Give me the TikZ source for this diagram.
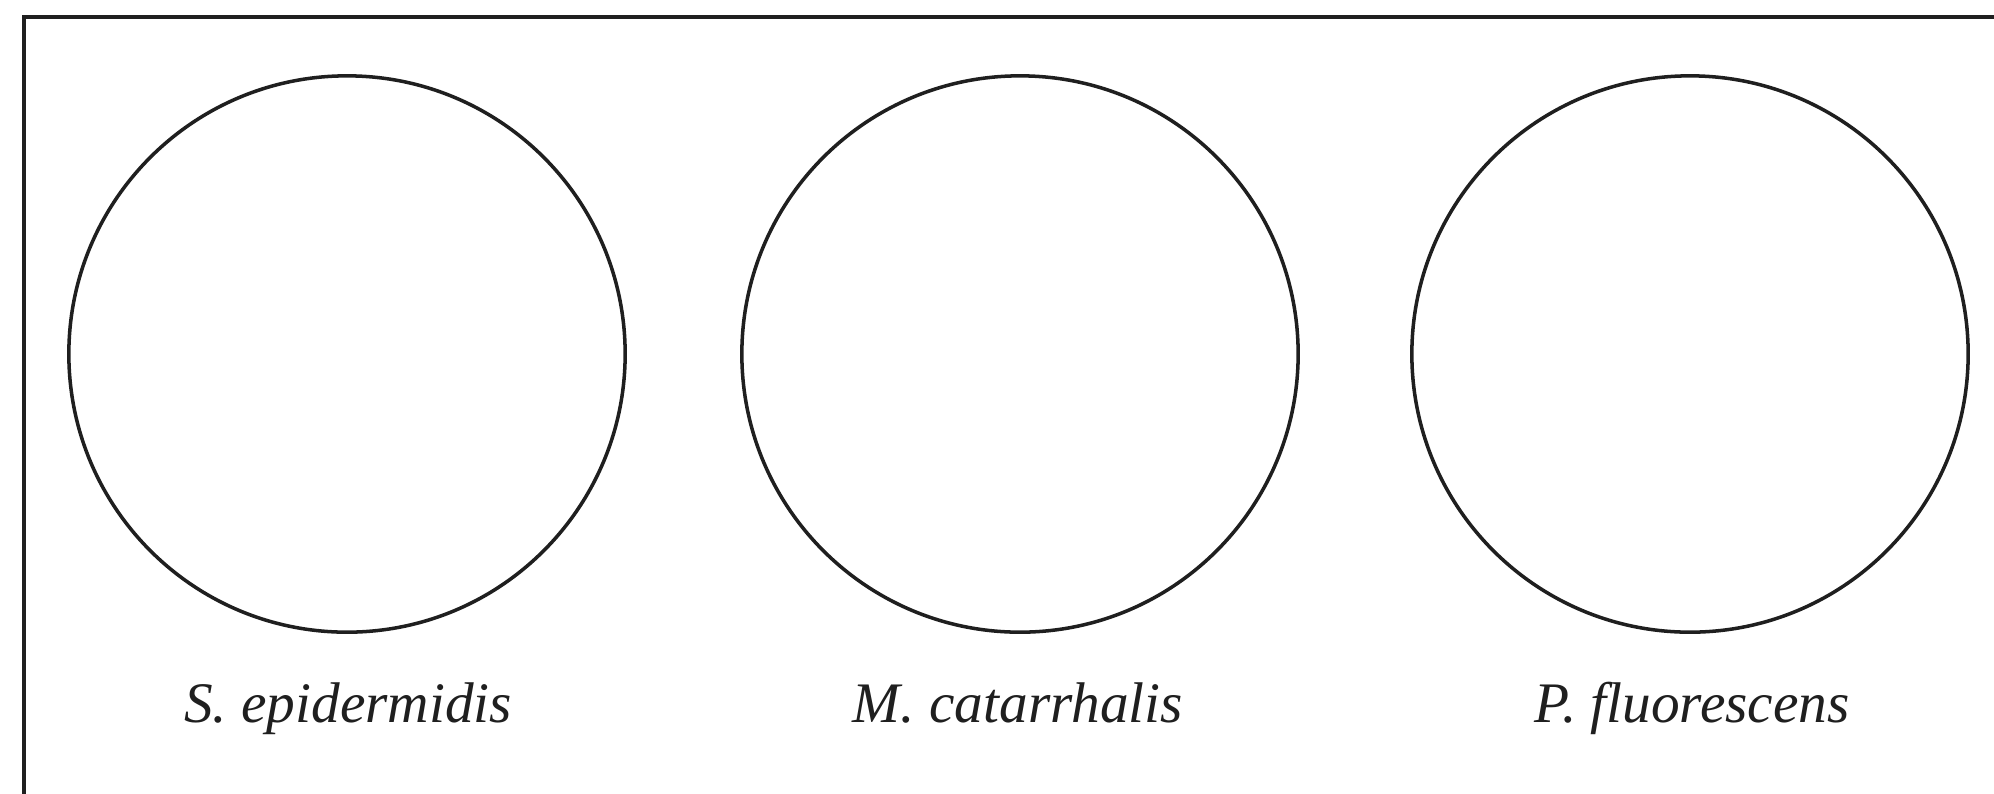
\documentclass[tikz,border=0pt]{standalone}
\usepackage{fontspec}
\setmainfont{Liberation Serif}
\begin{document}
\begin{tikzpicture}[x=0.01cm,y=-0.01cm,
  dish/.style={circle,draw=black!88,line width=1pt,minimum size=5.56cm,inner sep=0pt},
  lbl/.style={anchor=base,font=\fontsize{16.3}{20}\selectfont\itshape,text=black!88,inner sep=0pt},
  frame/.style={draw=black!88,line width=1.3pt}]
\useasboundingbox (0,0) rectangle (1994,793);
\clip (0,0) rectangle (1994,793);
\draw[frame] (24,17) rectangle (2050,850);
\node[dish] (c1) at (347,354) {};
\node[dish] (c2) at (1020,354) {};
\node[dish] (c3) at (1690,354) {};
\node[lbl] (l1) at (348,722) {S. epidermidis};
\node[lbl] (l2) at (1018,722) {M. catarrhalis};
\node[lbl] (l3) at (1692,722) {P. fluorescens};
\end{tikzpicture}
\end{document}
